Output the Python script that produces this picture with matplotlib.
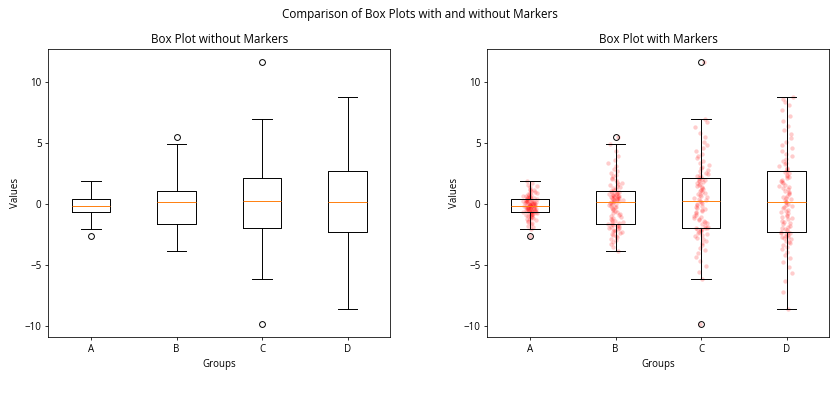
import numpy as np
import matplotlib
matplotlib.use("Agg")
import matplotlib.pyplot as plt

plt.rcParams['font.family'] = ['Open Sans', 'DejaVu Sans']

groups = ['A', 'B', 'C', 'D']

values_a = [-2.65, -2.05, -1.92, -1.78, -1.65, -1.55, -1.47, -1.40, -1.33, -1.27,
            -1.21, -1.16, -1.11, -1.06, -1.01, -0.97, -0.93, -0.89, -0.85, -0.82,
            -0.79, -0.76, -0.73, -0.70, -0.67,
            -0.65, -0.63, -0.61, -0.59, -0.57, -0.55, -0.53, -0.51, -0.49, -0.47,
            -0.45, -0.43, -0.41, -0.39, -0.37, -0.35, -0.33, -0.31, -0.29, -0.27,
            -0.25, -0.23, -0.21, -0.19, -0.17,
            -0.15, -0.13, -0.11, -0.09, -0.07, -0.05, -0.03, -0.01, 0.01, 0.03,
            0.05, 0.07, 0.09, 0.11, 0.13, 0.15, 0.17, 0.19, 0.21, 0.23,
            0.25, 0.28, 0.31, 0.34, 0.37,
            0.39, 0.42, 0.45, 0.48, 0.51, 0.54, 0.57, 0.61, 0.65, 0.69,
            0.73, 0.77, 0.82, 0.87, 0.92, 0.98, 1.04, 1.11, 1.18, 1.26,
            1.35, 1.45, 1.56, 1.70, 1.86]

values_b = [-3.85, -3.55, -3.30, -3.12, -2.98, -2.85, -2.74, -2.64, -2.55, -2.46,
            -2.38, -2.31, -2.24, -2.18, -2.12, -2.06, -2.00, -1.94, -1.89, -1.84,
            -1.79, -1.74, -1.70, -1.66, -1.62,
            -1.60, -1.52, -1.44, -1.36, -1.28, -1.20, -1.12, -1.04, -0.96, -0.88,
            -0.80, -0.72, -0.64, -0.57, -0.50, -0.43, -0.36, -0.29, -0.22, -0.16,
            -0.10, -0.04, 0.02, 0.08, 0.14,
            0.18, 0.22, 0.26, 0.30, 0.33, 0.36, 0.39, 0.42, 0.45, 0.48,
            0.51, 0.54, 0.57, 0.60, 0.63, 0.66, 0.69, 0.72, 0.75, 0.78,
            0.82, 0.86, 0.90, 0.95, 1.02,
            1.10, 1.18, 1.26, 1.34, 1.42, 1.50, 1.58, 1.66, 1.75, 1.84,
            1.94, 2.04, 2.15, 2.27, 2.40, 2.55, 2.72, 2.90, 3.10, 3.35,
            3.60, 3.90, 4.35, 4.89, 5.49]

values_c = [-9.84, -6.15, -5.60, -5.10, -4.70, -4.35, -4.05, -3.80, -3.58, -3.38,
            -3.20, -3.04, -2.90, -2.77, -2.65, -2.54, -2.44, -2.35, -2.27, -2.20,
            -2.14, -2.09, -2.05, -2.01, -1.98,
            -1.95, -1.86, -1.77, -1.68, -1.59, -1.50, -1.41, -1.32, -1.23, -1.14,
            -1.05, -0.96, -0.87, -0.78, -0.69, -0.60, -0.51, -0.42, -0.33, -0.24,
            -0.15, -0.06, 0.03, 0.11, 0.19,
            0.25, 0.33, 0.41, 0.49, 0.57, 0.65, 0.73, 0.81, 0.89, 0.97,
            1.05, 1.13, 1.21, 1.29, 1.37, 1.45, 1.53, 1.61, 1.69, 1.77,
            1.85, 1.93, 2.00, 2.06, 2.11,
            2.18, 2.26, 2.35, 2.45, 2.56, 2.68, 2.80, 2.93, 3.07, 3.22,
            3.38, 3.55, 3.73, 3.92, 4.12, 4.34, 4.58, 4.84, 5.12, 5.45,
            5.85, 6.35, 6.75, 6.94, 11.61]

values_d = [-8.61, -7.20, -6.30, -5.70, -5.20, -4.80, -4.45, -4.15, -3.90, -3.68,
            -3.50, -3.35, -3.22, -3.10, -3.00, -2.91, -2.83, -2.75, -2.68, -2.61,
            -2.54, -2.48, -2.42, -2.36, -2.31,
            -2.27, -2.17, -2.07, -1.97, -1.87, -1.77, -1.67, -1.57, -1.47, -1.37,
            -1.27, -1.17, -1.07, -0.97, -0.87, -0.77, -0.67, -0.57, -0.47, -0.37,
            -0.27, -0.17, -0.07, 0.03, 0.13,
            0.19, 0.29, 0.39, 0.49, 0.59, 0.69, 0.79, 0.89, 0.99, 1.09,
            1.19, 1.29, 1.39, 1.49, 1.59, 1.69, 1.79, 1.89, 1.99, 2.09,
            2.19, 2.29, 2.39, 2.50, 2.66,
            2.74, 2.85, 2.97, 3.10, 3.24, 3.39, 3.55, 3.72, 3.90, 4.10,
            4.32, 4.56, 4.82, 5.10, 5.40, 5.72, 6.05, 6.40, 6.80, 7.25,
            7.70, 8.10, 8.40, 8.60, 8.74]

data = [values_a, values_b, values_c, values_d]

fig, (ax1, ax2) = plt.subplots(1, 2, figsize=(12, 6), dpi=70)
fig.subplots_adjust(left=0.0575, right=0.9873, top=0.8826, bottom=0.1976, wspace=0.2836)

ax1.boxplot(data, labels=groups)
ax1.set_title('Box Plot without Markers')
ax1.set_xlabel('Groups')
ax1.set_ylabel('Values')

ax2.boxplot(data, labels=groups)
for i, vals in enumerate(data):
    n = len(vals)
    k = np.arange(n) + 101.0 * (i + 1)
    # deterministic hash-based jitter (display spread only, not data)
    h1 = np.abs(np.sin(k * 12.9898) * 43758.5453) % 1.0
    h2 = np.abs(np.sin(k * 78.233) * 24634.6345) % 1.0
    jit = (h1 + h2 - 1.0) * 0.1
    ax2.scatter(i + 1 + jit, vals, color='red', alpha=0.2, s=20, linewidths=0)
ax2.set_title('Box Plot with Markers')
ax2.set_xlabel('Groups')
ax2.set_ylabel('Values')

fig.suptitle('Comparison of Box Plots with and without Markers', y=0.982)

fig.savefig('out.png', dpi=70)
